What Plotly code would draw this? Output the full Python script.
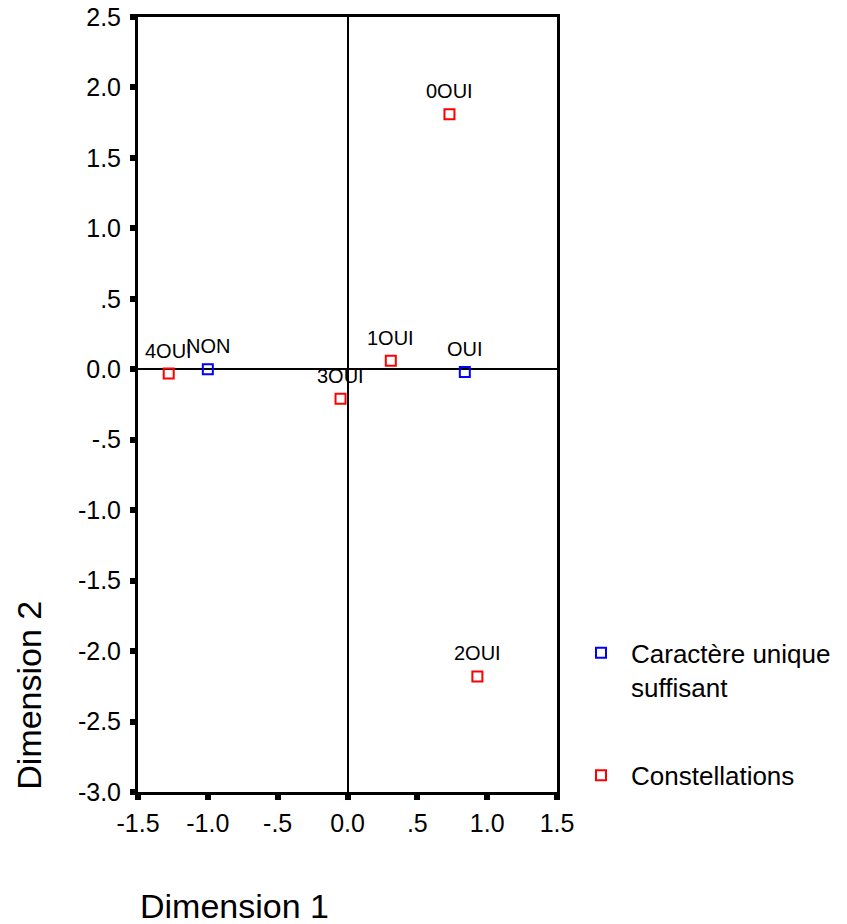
import plotly.graph_objects as go

# Data
blue_labels = ["NON", "OUI"]
blue_x = [-1.00, 0.84]
blue_y = [0.00, -0.02]

red_labels = ["0OUI", "1OUI", "2OUI", "3OUI", "4OUI"]
red_x = [0.73, 0.31, 0.93, -0.05, -1.28]
red_y = [1.81, 0.06, -2.18, -0.21, -0.03]

x_tickvals = [-1.5, -1.0, -0.5, 0.0, 0.5, 1.0, 1.5]
x_ticktext = ["-1.5", "-1.0", "-.5", "0.0", ".5", "1.0", "1.5"]
y_tickvals = [2.5, 2.0, 1.5, 1.0, 0.5, 0.0, -0.5, -1.0, -1.5, -2.0, -2.5, -3.0]
y_ticktext = ["2.5", "2.0", "1.5", "1.0", ".5", "0.0", "-.5", "-1.0", "-1.5", "-2.0", "-2.5", "-3.0"]

FONT = "Liberation Sans, Arial, sans-serif"
BLUE = "#0000ff"
RED = "#ff0000"

fig = go.Figure()
fig.add_trace(go.Scatter(
    x=blue_x, y=blue_y, mode="markers", name="Caractère unique<br>suffisant",
    marker=dict(symbol="square-open", size=10, color=BLUE, line=dict(width=2, color=BLUE)),
    legendgroup="a", cliponaxis=False,
))
fig.add_trace(go.Scatter(
    x=red_x, y=red_y, mode="markers", name="Constellations",
    marker=dict(symbol="square-open", size=10, color=RED, line=dict(width=2, color=RED)),
    legendgroup="b", cliponaxis=False,
))

for lbls, xs, ys in [(blue_labels, blue_x, blue_y), (red_labels, red_x, red_y)]:
    for t, xv, yv in zip(lbls, xs, ys):
        fig.add_annotation(x=xv, y=yv, text=t, showarrow=False, yshift=23,
                           font=dict(family=FONT, size=20, color="black"))

axis_common = dict(
    showline=True, linecolor="black", linewidth=3, mirror=True,
    ticks="outside", ticklen=5, tickwidth=6, tickcolor="black",
    showgrid=False, zeroline=True, zerolinecolor="black", zerolinewidth=2,
    tickfont=dict(family=FONT, size=25, color="black"),
    automargin=False, ticklabeloverflow="allow",
)

fig.update_xaxes(range=[-1.5, 1.5], tickvals=x_tickvals, ticktext=x_ticktext,
                 ticklabelstandoff=2, **axis_common)
fig.update_yaxes(range=[-3.0, 2.5], tickvals=y_tickvals, ticktext=y_ticktext,
                 ticklabelstandoff=4, **axis_common)

fig.add_annotation(xref="paper", yref="paper", x=0, y=-0.147, xanchor="left", yanchor="middle",
                   text="Dimension 1", showarrow=False,
                   font=dict(family=FONT, size=34, color="black"))
fig.add_annotation(xref="paper", yref="paper", x=-0.262, y=0, xanchor="center", yanchor="bottom",
                   text="Dimension 2", showarrow=False, textangle=-90,
                   font=dict(family=FONT, size=34, color="black"))

fig.update_layout(
    width=847, height=924, autosize=False,
    margin=dict(l=138, r=289, t=17, b=132),
    plot_bgcolor="white", paper_bgcolor="white",
    showlegend=True,
    legend=dict(x=1.031, y=0.21, xanchor="left", yanchor="top",
                font=dict(family=FONT, size=26, color="black"),
                itemwidth=50, tracegroupgap=52, valign="top",
                bgcolor="rgba(0,0,0,0)"),
)

fig.write_html("out.html", config={"displayModeBar": False},
               post_script="document.body.style.margin='0';")
